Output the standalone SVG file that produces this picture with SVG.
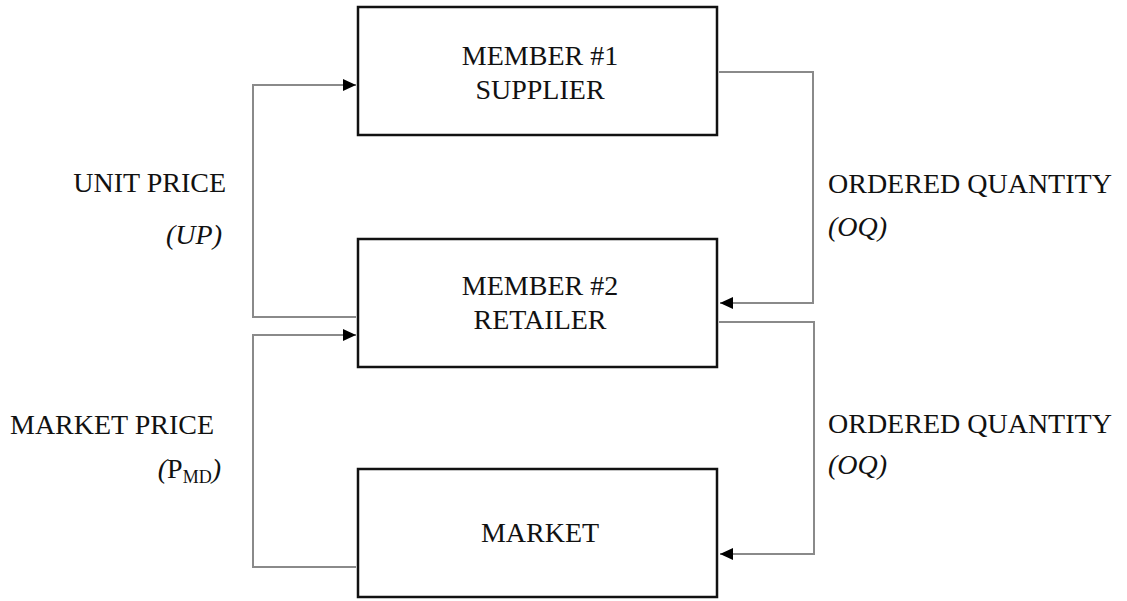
<svg xmlns="http://www.w3.org/2000/svg" width="1127" height="601" viewBox="0 0 1127 601">
<style>
.box{fill:#fff;stroke:#111;stroke-width:2.5}
.lbl{font-family:"Liberation Serif","Times New Roman",serif;font-size:28px;fill:#111}
.it{font-style:italic}
.c{text-anchor:middle}
.e{text-anchor:end}
.wire{fill:none;stroke:#8a8a8a;stroke-width:2}
</style>
<defs>
<marker id="ah" markerUnits="userSpaceOnUse" markerWidth="14" markerHeight="14" refX="13" refY="7" orient="auto">
<path d="M0,1 L13,7 L0,13 Z" fill="#000"/>
</marker>
</defs>
<rect width="1127" height="601" fill="#fff"/>
<g id="connectors">
<path class="wire" d="M356,317 H253 V85 H356" marker-end="url(#ah)"/>
<path class="wire" d="M719,72 H813 V303 H720" marker-end="url(#ah)"/>
<path class="wire" d="M356,567 H253 V335 H356" marker-end="url(#ah)"/>
<path class="wire" d="M719,322 H814 V554 H720" marker-end="url(#ah)"/>
</g>
<g id="supplier">
<rect class="box" x="358" y="7" width="359" height="128"/>
<text class="lbl c" x="540" y="65">MEMBER #1</text>
<text class="lbl c" x="540" y="99">SUPPLIER</text>
</g>
<g id="retailer">
<rect class="box" x="358" y="239" width="359" height="128"/>
<text class="lbl c" x="540" y="295">MEMBER #2</text>
<text class="lbl c" x="540" y="329">RETAILER</text>
</g>
<g id="market">
<rect class="box" x="358" y="469" width="359" height="128"/>
<text class="lbl c" x="540" y="542">MARKET</text>
</g>
<g id="labels">
<text class="lbl e" x="226" y="192">UNIT PRICE</text>
<text class="lbl it e" x="222" y="244">(UP)</text>
<text class="lbl" x="10" y="434">MARKET PRICE</text>
<text class="lbl it e" x="221" y="478">(<tspan font-style="normal">P</tspan><tspan font-style="normal" font-size="18" dy="5">MD</tspan><tspan dy="-5">)</tspan></text>
<text class="lbl" x="828" y="193">ORDERED QUANTITY</text>
<text class="lbl it" x="828" y="236">(OQ)</text>
<text class="lbl" x="828" y="433">ORDERED QUANTITY</text>
<text class="lbl it" x="828" y="474">(OQ)</text>
</g>
</svg>
